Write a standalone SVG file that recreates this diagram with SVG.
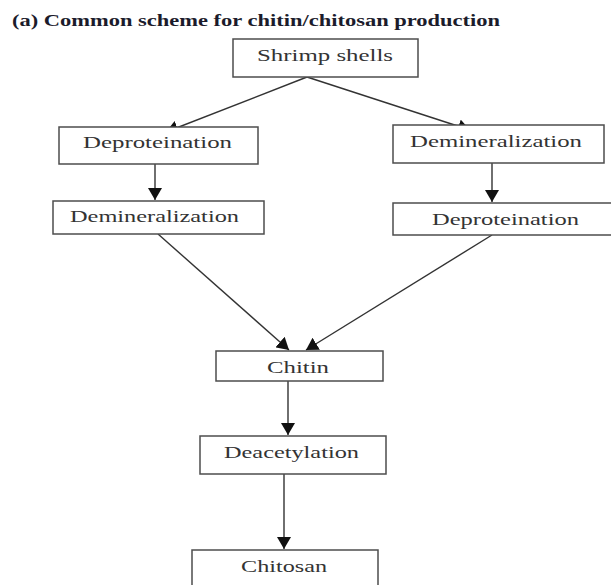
<svg xmlns="http://www.w3.org/2000/svg" width="611" height="585" viewBox="0 0 611 585">
<style>
.box{fill:#fff;stroke:#4d4d4d;stroke-width:1.5}
.lbl{font-family:"Liberation Serif","Times New Roman",serif;font-size:17.5px;fill:#333}
.title{font-family:"Liberation Serif","Times New Roman",serif;font-size:16.5px;font-weight:bold;fill:#1b1b2b}
.con{stroke:#333;stroke-width:1.4;fill:none;marker-end:url(#ah)}
</style>
<defs>
<marker id="ah" markerUnits="userSpaceOnUse" viewBox="0 0 12 14" refX="12" refY="7" markerWidth="12" markerHeight="14" orient="auto">
<path d="M0,0 L12,7 L0,14 z" fill="#111"/>
</marker>
</defs>
<rect width="611" height="585" fill="#fff"/>
<text class="title" x="12" y="26" textLength="488" lengthAdjust="spacingAndGlyphs">(a) Common scheme for chitin/chitosan production</text>
<g id="connectors">
<line class="con" x1="307" y1="77" x2="166" y2="132"/>
<line class="con" x1="307" y1="77" x2="470" y2="130"/>
<line class="con" x1="155" y1="164" x2="155" y2="200"/>
<line class="con" x1="492" y1="163" x2="492" y2="202"/>
<line class="con" x1="158" y1="234" x2="289" y2="350"/>
<line class="con" x1="492" y1="235" x2="306" y2="350"/>
<line class="con" x1="288" y1="381" x2="288" y2="435"/>
<line class="con" x1="284" y1="474" x2="284" y2="549"/>
</g>
<g id="shrimp-shells"><rect class="box" x="233" y="39" width="185" height="38"/><text class="lbl" x="257" y="61" textLength="136" lengthAdjust="spacingAndGlyphs">Shrimp shells</text></g>
<g id="deproteination-left"><rect class="box" x="59" y="127" width="199" height="37"/><text class="lbl" x="83" y="148" textLength="149" lengthAdjust="spacingAndGlyphs">Deproteination</text></g>
<g id="demineralization-right"><rect class="box" x="393" y="125" width="211" height="38"/><text class="lbl" x="410" y="147" textLength="172" lengthAdjust="spacingAndGlyphs">Demineralization</text></g>
<g id="demineralization-left"><rect class="box" x="53" y="201" width="211" height="33"/><text class="lbl" x="70" y="222" textLength="169" lengthAdjust="spacingAndGlyphs">Demineralization</text></g>
<g id="deproteination-right"><rect class="box" x="393" y="203" width="230" height="32"/><text class="lbl" x="432" y="225" textLength="147" lengthAdjust="spacingAndGlyphs">Deproteination</text></g>
<g id="chitin"><rect class="box" x="216" y="351" width="167" height="30"/><text class="lbl" x="267" y="373" textLength="62" lengthAdjust="spacingAndGlyphs">Chitin</text></g>
<g id="deacetylation"><rect class="box" x="200" y="436" width="186" height="38"/><text class="lbl" x="224" y="458" textLength="135" lengthAdjust="spacingAndGlyphs">Deacetylation</text></g>
<g id="chitosan"><rect class="box" x="192" y="550" width="186" height="50"/><text class="lbl" x="241" y="572" textLength="86" lengthAdjust="spacingAndGlyphs">Chitosan</text></g>
</svg>
